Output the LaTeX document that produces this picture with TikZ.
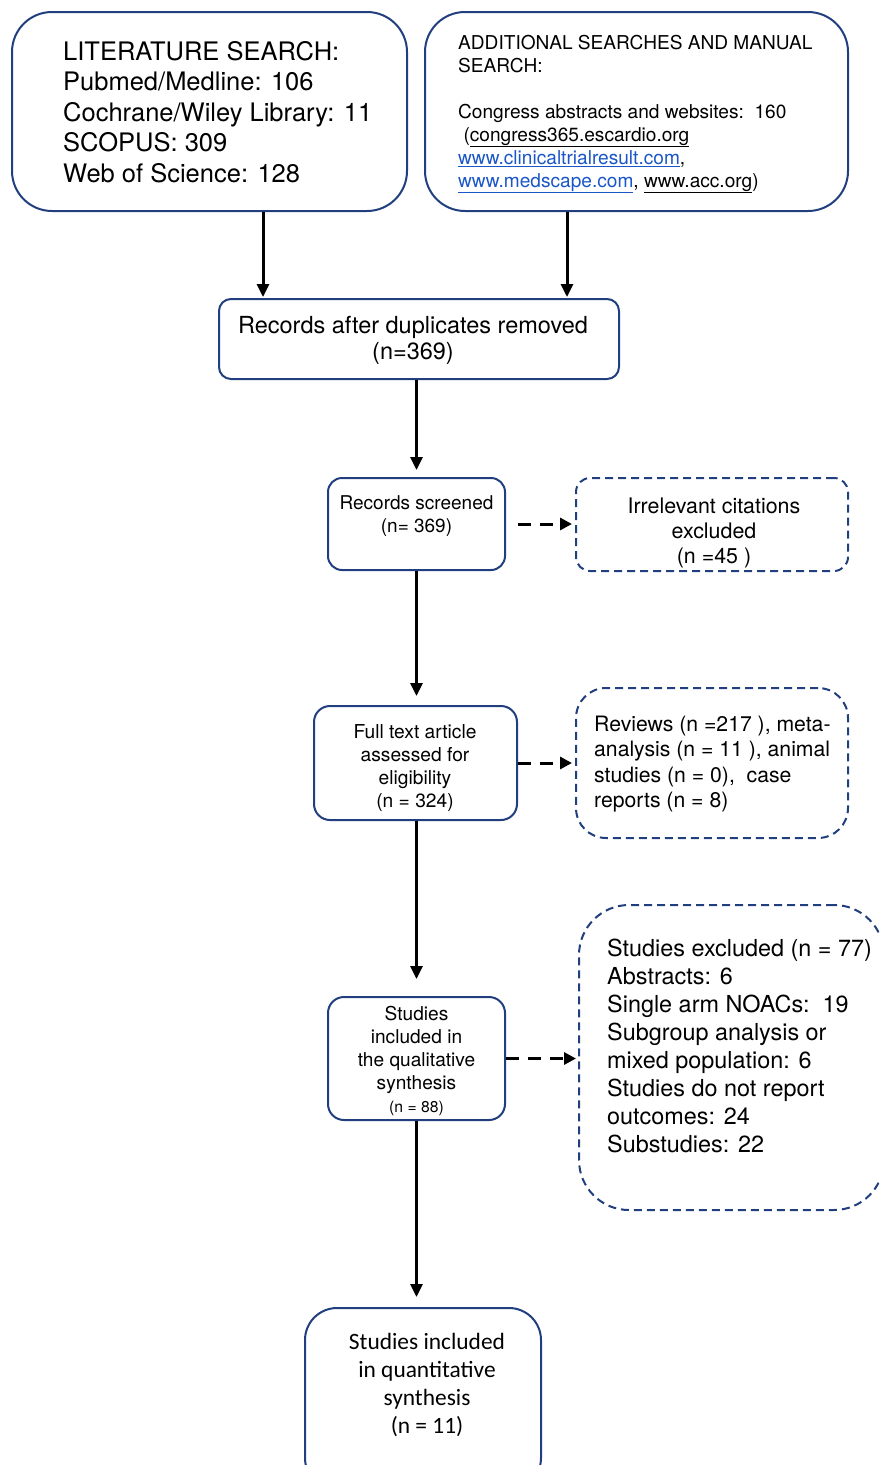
\documentclass[tikz,border=0pt]{standalone}
\usepackage{fontspec}
\setmainfont{TeX Gyre Heros}
\newfontfamily\calib{Carlito}
\usetikzlibrary{arrows.meta}
\definecolor{navy}{HTML}{213F7E}
\definecolor{linkblue}{HTML}{1A56C8}
\tikzset{
  box/.style={draw=navy, line width=2pt, inner sep=0pt},
  dbox/.style={draw=navy, line width=2pt, inner sep=0pt, dash pattern=on 8pt off 5pt},
  arr/.style={line width=3pt, -{Triangle[length=13pt,width=12pt]}},
  darr/.style={line width=3pt, dash pattern=on 13pt off 9pt, -{Triangle[length=12pt,width=12pt]}},
  txt/.style={inner sep=0pt, text=black}
}
\begin{document}
\begin{tikzpicture}[x=1pt,y=-1pt]
\useasboundingbox (0,0) rectangle (879,1465);
\clip (0,0) rectangle (879,1465);
% boxes
\node[box, minimum width=395pt, minimum height=199pt, rounded corners=40pt] (A) at (209.5,111.5) {};
\node[box, minimum width=423pt, minimum height=199pt, rounded corners=40pt] (B) at (636.5,111.5) {};
\node[box, minimum width=400pt, minimum height=80pt, rounded corners=12pt] (C) at (419,339) {};
\node[box, minimum width=177pt, minimum height=92pt, rounded corners=14pt] (D) at (416.5,524) {};
\node[dbox, minimum width=272pt, minimum height=93pt, rounded corners=14pt] (E) at (712,524.5) {};
\node[box, minimum width=203pt, minimum height=114pt, rounded corners=16pt] (F) at (415.5,763) {};
\node[dbox, minimum width=272pt, minimum height=150pt, rounded corners=30pt] (G) at (712,763) {};
\node[box, minimum width=177pt, minimum height=123pt, rounded corners=16pt] (H) at (416.5,1058.5) {};
\node[dbox, minimum width=305pt, minimum height=305pt, rounded corners=50pt] (I) at (731.5,1057.5) {};
\node[box, minimum width=236pt, minimum height=182pt, rounded corners=32pt] (J) at (423,1399) {};
% texts
\node[txt, anchor=west, align=left, font=\fontsize{25.5}{30.5}\selectfont] (tA) at (63,112)
 {LITERATURE SEARCH:\\Pubmed/Medline: 106\\Cochrane/Wiley Library: 11\\SCOPUS: 309\\Web of Science: 128};
\node[txt, anchor=west, align=left, font=\fontsize{19.1}{23}\selectfont] (tB) at (458,114)
 {ADDITIONAL SEARCHES AND MANUAL\\SEARCH:\\[23pt]Congress abstracts and websites:\ \ 160\\
 \ (\underline{congress365.escardio.org}\\
 \textcolor{linkblue}{\underline{www.clinicaltrialresult.com}},\\
 \textcolor{linkblue}{\underline{www.medscape.com}}, \underline{www.acc.org})};
\node[txt, align=center, font=\fontsize{23.5}{26}\selectfont] (tC) at (413,340)
 {Records after duplicates removed\\(n=369)};
\node[txt, align=center, font=\fontsize{19}{23}\selectfont] (tD) at (416.5,516)
 {Records screened\\(n= 369)};
\node[txt, align=center, font=\fontsize{21.4}{25}\selectfont] (tE) at (714,533)
 {Irrelevant citations\\excluded\\(n =45 )};
\node[txt, align=center, font=\fontsize{19.2}{23}\selectfont] (tF) at (415,768)
 {Full text article\\assessed for\\eligibility\\(n = 324)};
\node[txt, anchor=west, align=left, font=\fontsize{21.2}{25.5}\selectfont] (tG) at (594,764)
 {Reviews (n =217 ), meta-\\analysis (n = 11 ), animal\\studies (n = 0),\ \ case\\reports (n = 8)};
\node[txt, align=center, font=\fontsize{19.1}{23}\selectfont] (tH) at (416.5,1061)
 {Studies\\included in\\the qualitative\\synthesis\\{\fontsize{15.7}{23}\selectfont(n = 88)}};
\node[txt, anchor=west, align=left, font=\fontsize{23.4}{28}\selectfont] (tI) at (607,1046)
 {Studies excluded (n = 77)\\Abstracts: 6\\Single arm NOACs:\ \ 19\\Subgroup analysis or\\mixed population: 6\\Studies do not report\\outcomes: 24\\Substudies: 22};
\node[txt, align=center, font=\calib\fontsize{23.4}{28}\selectfont] (tJ) at (427,1385)
 {Studies included\\in quantitative\\synthesis\\(n = 11)};
% connectors
\coordinate (xa) at (263,0);
\coordinate (xb) at (567,0);
\draw[arr, shorten >=1pt] (A.south -| xa) -- (C.north -| xa);
\draw[arr, shorten >=1pt] (B.south -| xb) -- (C.north -| xb);
\draw[arr, shorten >=7pt] (D.north |- C.south) -- (D.north);
\draw[arr, shorten >=9pt] (D.south) -- (D.south |- F.north);
\draw[arr, shorten >=17pt] (F.south -| H.north) -- (H.north);
\draw[arr, shorten >=10pt] (H.south) -- (H.south |- J.north);
\draw[darr, shorten <=12pt, shorten >=3pt] (D.east) -- (E.west |- D.east);
\draw[darr, shorten >=3pt] (F.east) -- (G.west |- F.east);
\draw[darr, shorten >=2pt] (H.east) -- (I.west |- H.east);
\end{tikzpicture}
\end{document}
